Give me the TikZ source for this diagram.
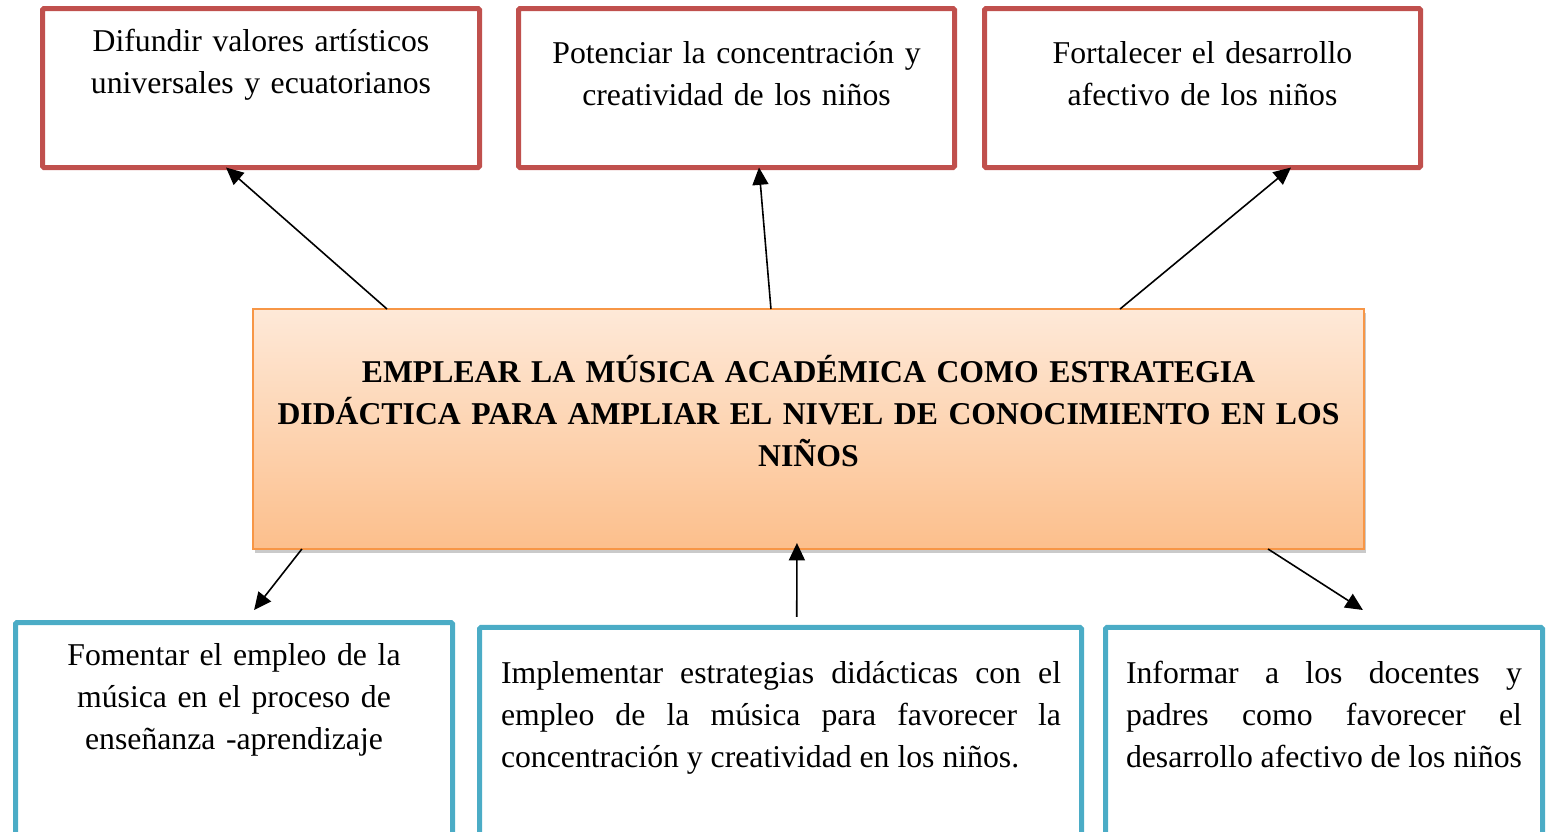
\documentclass[tikz,border=0pt]{standalone}
\usepackage{fontspec}
\setmainfont{Liberation Serif}
\usetikzlibrary{arrows.meta,shadows,calc}
\definecolor{boxred}{HTML}{C0504D}
\definecolor{boxblue}{HTML}{4BACC6}
\definecolor{boxorange}{HTML}{F79646}
\definecolor{gradtop}{HTML}{FEE9D8}
\definecolor{gradbot}{HTML}{FCBF8C}
\begin{document}
\begin{tikzpicture}[x=0.75pt,y=-0.75pt,
  redbox/.style={draw=boxred, line width=3.75pt, rounded corners=1pt, minimum width=327.75pt, minimum height=119.25pt, inner sep=0pt, outer sep=0pt},
  bluebox/.style={draw=boxblue, line width=3.75pt, rounded corners=1pt, inner sep=0pt, outer sep=0pt},
  mainbox/.style={draw=boxorange, line width=1.5pt, top color=gradtop, bottom color=gradbot, minimum width=833.25pt, minimum height=180pt, inner sep=0pt, outer sep=0pt, drop shadow={shadow xshift=1.5pt, shadow yshift=-3pt, opacity=0.35, fill=black!60}},
  txt/.style={font=\fontsize{23.8pt}{31.5pt}\selectfont, inner sep=0pt, outer sep=0pt, anchor=base},
  txtb/.style={font=\fontsize{23.8pt}{31.5pt}\selectfont\bfseries, inner sep=0pt, outer sep=0pt, anchor=base},
  arr/.style={-{Triangle[length=13pt,width=12pt]}, line width=1.2pt, black}
]
\useasboundingbox (0,0) rectangle (1550,832);
\clip (0,0) rectangle (1550,832);

% top boxes
\node[redbox] (b1) at (261,88) {};
\node[redbox, minimum width=327pt] (b2) at (736.5,88) {};
\node[redbox, minimum width=327pt] (b3) at (1202.5,88) {};

% main box
\node[mainbox] (c) at (808.5,429) {};

% bottom boxes
\node[bluebox, minimum width=327.75pt, minimum height=160.1pt] (b4) at (234,729.25) {};
\node[bluebox, minimum width=451.5pt, minimum height=156.4pt] (b5) at (780.5,731.75) {};
\node[bluebox, minimum width=327.75pt, minimum height=156.4pt] (b6) at (1324,731.75) {};

% texts
\node[txt, text width=320pt, align=center] (t1) at (261,51) {Difundir valores artísticos\\universales y ecuatorianos};
\node[txt, text width=320pt, align=center] (t2) at (736.5,63) {Potenciar la concentración y\\creatividad de los niños};
\node[txt, text width=320pt, align=center] (t3) at (1202.5,63) {Fortalecer el desarrollo\\afectivo de los niños};
\node[txtb, text width=820pt, align=center] (tc) at (808.5,382) {EMPLEAR LA MÚSICA ACADÉMICA COMO ESTRATEGIA\\DIDÁCTICA PARA AMPLIAR EL NIVEL DE CONOCIMIENTO EN LOS\\NIÑOS};
\node[txt, text width=320pt, align=center] (t4) at (234,665) {Fomentar el empleo de la\\música en el proceso de\\enseñanza -aprendizaje};
\node[txt, text width=420pt, align=justify] (t5) at (781,683) {\hyphenpenalty=10000\exhyphenpenalty=10000 Implementar estrategias didácticas con el\linebreak empleo de la música para favorecer la\linebreak concentración y creatividad en los niños.};
\node[txt, text width=297pt, align=justify] (t6) at (1324,683) {\hyphenpenalty=10000\exhyphenpenalty=10000 Informar a los docentes y\linebreak padres como favorecer el\linebreak desarrollo afectivo de los niños};

% connectors
\draw[arr] ($(c.north west)!0.1206!(c.north east)$) -- ($(b1.south west)!0.42!(b1.south east)$);
\draw[arr] ($(c.north west)!0.4662!(c.north east)$) -- ($(b2.south west)!0.5516!(b2.south east)$);
\draw[arr] ($(c.north west)!0.7804!(c.north east)$) -- ($(b3.south west)!0.703!(b3.south east)$);
\draw[arr] ($(c.south west)!0.044!(c.south east)$) -- ($(b4.north west)!0.546!(b4.north east)+(0,-12.5)$);
\draw[arr] ($(b5.north west)!0.527!(b5.north east)+(0,-10.5)$) -- ($(c.south west)!0.4896!(c.south east)+(0,-6)$);
\draw[arr] ($(c.south west)!0.9136!(c.south east)$) -- ($(b6.north west)!0.589!(b6.north east)+(0,-17.5)$);
\end{tikzpicture}
\end{document}
